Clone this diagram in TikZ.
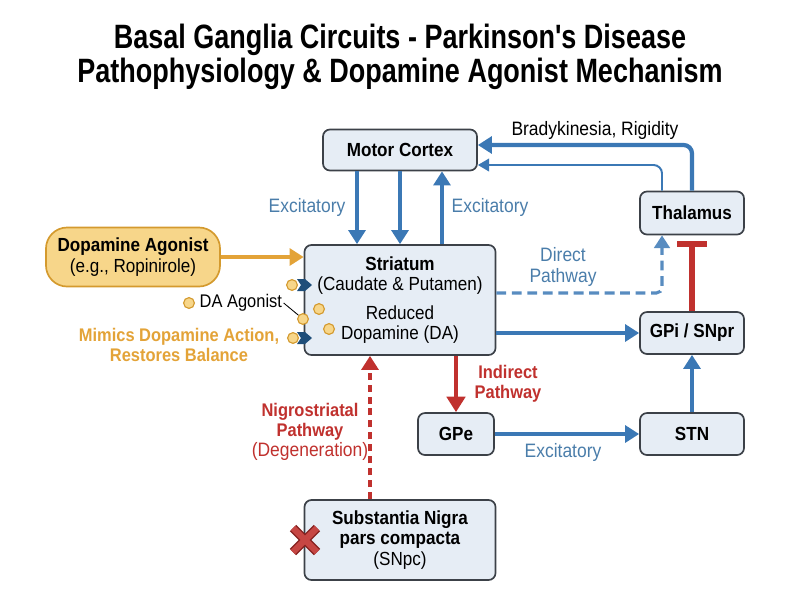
\documentclass[tikz,border=0pt]{standalone}
\usepackage{fontspec}
\setmainfont{Liberation Sans}[FakeStretch=0.9]
\newfontfamily\titlefont{Liberation Sans}[FakeStretch=0.8]
\usepackage{tikz}
\usetikzlibrary{arrows.meta,positioning,calc}
\usepackage{xcolor}
\definecolor{boxfill}{HTML}{E6EDF5}
\definecolor{boxline}{HTML}{3C4148}
\definecolor{excite}{HTML}{3B78B5}
\definecolor{excitetxt}{HTML}{4A7DAA}
\definecolor{inhibit}{HTML}{C0312E}
\definecolor{agonist}{HTML}{E3A338}
\definecolor{agonistfill}{HTML}{F7D68A}
\definecolor{agonistline}{HTML}{D49A2E}
\definecolor{receptor}{HTML}{1F4E79}

\begin{document}
\begin{tikzpicture}[
  x=0.025cm, y=-0.025cm,
  region/.style={draw=boxline, fill=boxfill, line width=1.2pt, rounded corners=5pt, align=center, inner sep=2pt, font=\fontsize{13.5}{14.5}\selectfont},
  blueflow/.style={excite, line width=3pt, -{Triangle[width=12pt,length=10pt]}},
  lbl/.style={align=center, font=\fontsize{13.8}{14.3}\selectfont},
  dadot/.style={circle, draw=agonistline, fill=agonistfill, line width=0.8pt, minimum size=0.27cm, inner sep=0pt},
]
  \useasboundingbox (0,0) rectangle (800,600);

  \node[font=\titlefont\bfseries\fontsize{24}{24}\selectfont, align=center] (title) at (400,57)
    {Basal Ganglia Circuits - Parkinson's Disease\\Pathophysiology \& Dopamine Agonist Mechanism};

  \node[region, minimum width=3.85cm, minimum height=1.025cm] (cortex) at (400,150) {\textbf{Motor Cortex}};
  \node[region, minimum width=2.6cm, minimum height=1.075cm] (thal) at (692,213) {\textbf{Thalamus}};
  \node[region, minimum width=4.775cm, minimum height=2.75cm] (str) at (400,300)
    {\textbf{Striatum}\\(Caudate \& Putamen)\\[6pt]Reduced\\Dopamine (DA)};
  \node[region, minimum width=2.6cm, minimum height=1.05cm] (gpi) at (692,333) {\textbf{GPi / SNpr}};
  \node[region, minimum width=1.9cm, minimum height=1.05cm] (gpe) at (456,434) {\textbf{GPe}};
  \node[region, minimum width=2.6cm, minimum height=1.05cm] (stn) at (692,434) {\textbf{STN}};
  \node[region, minimum width=4.775cm, minimum height=2.0cm] (snpc) at (400,540)
    {\textbf{Substantia Nigra}\\\textbf{pars compacta}\\(SNpc)};
  \node[region, draw=agonistline, fill=agonistfill, rounded corners=15pt, minimum width=4.35cm, minimum height=1.475cm] (drug) at (133,257)
    {\textbf{Dopamine Agonist}\\(e.g., Ropinirole)};

  % labels
  \node[lbl, excitetxt] (excL) at (307,207) {Excitatory};
  \node[lbl, excitetxt] (excR) at (490,207) {Excitatory};
  \node[lbl] (symptom) at (595,130) {Bradykinesia, Rigidity};
  \node[lbl, excitetxt] (direct) at (563,267) {Direct\\Pathway};
  \node[lbl, inhibit, font=\bfseries\fontsize{13}{14.3}\selectfont] (indirect) at (508,384) {Indirect\\Pathway};
  \node[lbl, excitetxt] (excB) at (563,452) {Excitatory};
  \node[lbl, inhibit] (nigro) at (310,432)
    {\textbf{\fontsize{13}{14.3}\selectfont Nigrostriatal}\\\textbf{\fontsize{13}{14.3}\selectfont Pathway}\\(Degeneration)};
  \node[lbl, agonist, font=\bfseries\fontsize{13}{14.3}\selectfont] (mimic) at (179,345)
    {Mimics Dopamine Action,\\Restores Balance};

  % agonist molecules and receptors
  \foreach \y in {285,338}
    \fill[receptor] (297,\y-6) -- (305,\y-6) -- (312,\y) -- (305,\y+6) -- (297,\y+6) -- (301,\y) -- cycle;
  \node[dadot] (da1) at (292,285) {};
  \node[dadot] (da2) at (319,309) {};
  \node[dadot] (da3) at (303,319) {};
  \node[dadot] (da4) at (329,329) {};
  \node[dadot] (da5) at (293,338) {};
  \node[dadot] (da0) at (189,303) {};
  \node[lbl, anchor=west, inner sep=1pt, font=\fontsize{13}{14}\selectfont] (dalbl) at (198,303) {DA Agonist};
  \draw[line width=0.6pt] (dalbl.east) -- (da3);

  % cortex loop
  \draw[blueflow] ($(cortex.south)+(-43,0)$) -- ($(str.north)+(-43,0)$);
  \draw[blueflow] (cortex) -- (str);
  \draw[blueflow] ($(str.north)+(42,0)$) -- ($(cortex.south)+(42,0)$);
  \draw[blueflow, rounded corners=6pt] (thal.north) |- ($(cortex.east)+(0,-5)$);
  \draw[excite, line width=1.4pt, rounded corners=6pt, -{Triangle[width=9pt,length=8pt]}]
    ($(thal.north)+(-30,0)$) |- ($(cortex.east)+(0,15)$);

  % pathways
  \draw[agonist, line width=3pt, -{Triangle[width=12pt,length=10pt]}] (drug.east) -- (str.west |- drug.east);
  \draw[excite!85, line width=2.2pt, dash pattern=on 7pt off 4pt, rounded corners=4pt, -{Triangle[width=11pt,length=9pt]}]
    ($(str.east)+(0,-7)$) -| ($(thal.south)+(-30,0)$);
  \draw[blueflow] (str.east |- gpi.west) -- (gpi.west);
  \draw[inhibit, line width=4pt, shorten >=4pt, -{Bar[width=21pt,length=4pt]}] (gpi) -- (thal);
  \draw[inhibit, line width=3.5pt, -{Triangle[width=13pt,length=11pt]}] (str.south -| gpe.north) -- (gpe.north);
  \draw[blueflow] (gpe) -- (stn);
  \draw[blueflow] (stn) -- (gpi);
  \draw[inhibit, line width=3pt, dash pattern=on 5pt off 3.5pt, -{Triangle[width=12pt,length=10pt]}]
    ($(snpc.north)+(-30,0)$) -- ($(str.south)+(-30,0)$);

  % lost neurons
  \foreach \c/\w in {inhibit!70!black/6.5pt, inhibit!90/4.5pt} {
    \draw[\c, line width=\w] (293,528) -- (317,552);
    \draw[\c, line width=\w] (317,528) -- (293,552);
  }
\end{tikzpicture}
\end{document}
